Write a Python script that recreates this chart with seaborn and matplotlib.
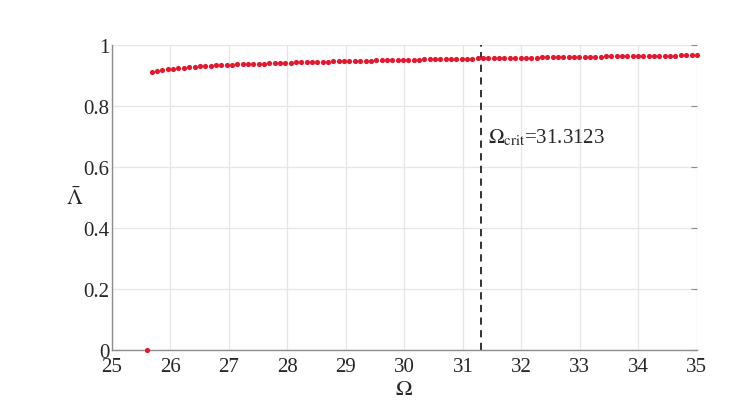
import matplotlib
matplotlib.use("Agg")

import matplotlib.pyplot as plt
import numpy as np
import pandas as pd
import seaborn as sns

# upper branch, 103 evenly spaced omega samples from 25.68 to 35
omega = np.linspace(25.68, 35.0, 103)
lam = [0.911, 0.9145, 0.918, 0.920, 0.922, 0.924, 0.9255, 0.927, 0.9285, 0.930,
       0.931, 0.932, 0.933, 0.934, 0.9347, 0.9354, 0.936, 0.9367, 0.9374, 0.938,
       0.9386, 0.9392, 0.9398, 0.9404, 0.941, 0.9418, 0.9423, 0.9428, 0.9432, 0.9437,
       0.9441, 0.9446, 0.945, 0.9455, 0.946, 0.9464, 0.9469, 0.9473, 0.9476, 0.948,
       0.9484, 0.9487, 0.9491, 0.9494, 0.9498, 0.9502, 0.9506, 0.9509, 0.9513, 0.9517,
       0.952, 0.9524, 0.9528, 0.9531, 0.9535, 0.9539, 0.9542, 0.9546, 0.955, 0.9552,
       0.9555, 0.9558, 0.9561, 0.9563, 0.9566, 0.9569, 0.9572, 0.9574, 0.9577, 0.958,
       0.9583, 0.9585, 0.9588, 0.9591, 0.9594, 0.9596, 0.9599, 0.9602, 0.9605, 0.9607,
       0.961, 0.9613, 0.9616, 0.9618, 0.9621, 0.9624, 0.9627, 0.9629, 0.9632, 0.9635,
       0.9638, 0.964, 0.9642, 0.9644, 0.9646, 0.9647, 0.9649, 0.9651, 0.9653, 0.9655,
       0.9657, 0.9659, 0.966]

# the lone point on the zero branch
omega0 = [25.59]
lam0 = [0.0]

omega_crit = 31.3123

df = pd.DataFrame({"omega": list(omega) + omega0, "lam": lam + lam0})

sns.set_style("white")
plt.rcParams['font.family'] = ['Liberation Serif', 'DejaVu Serif']
plt.rcParams['mathtext.fontset'] = 'stix'

fig = plt.figure(figsize=(7.32, 4.14), dpi=100)
ax = fig.add_axes([0.153, 0.152, 0.799, 0.737])

sns.scatterplot(data=df, x="omega", y="lam", ax=ax, color="#e3182f",
                s=14, linewidth=0, clip_on=False, zorder=3)

ax.axvline(omega_crit, ymin=0, ymax=1, color="#222222", linestyle=(0, (4, 3)),
           linewidth=1.3, zorder=2)
ax.text(31.43, 0.70, r"$\Omega_{\mathrm{crit}}$=31.3123", fontsize=15,
        va="center", ha="left")

ax.set_xlim(25, 35)
ax.set_ylim(0, 1)
ax.set_xticks(range(25, 36))
ax.set_yticks([0, 0.2, 0.4, 0.6, 0.8, 1])
ax.set_yticklabels(["0", "0.2", "0.4", "0.6", "0.8", "1"])

ax.grid(True, color="#e6e6e6", linewidth=0.9)
ax.set_axisbelow(True)
for side in ["top", "right"]:
    ax.spines[side].set_visible(False)
for side in ["left", "bottom"]:
    ax.spines[side].set_color("#8c8c8c")
    ax.spines[side].set_linewidth(1.0)

ax.tick_params(axis="both", labelsize=15, direction="in", length=0)
ax.tick_params(axis="x", pad=5)
ax.tick_params(axis="y", pad=2, length=4, color="#8c8c8c", right=True)

ax.set_xlabel(r"$\Omega$", fontsize=16, labelpad=3)
ax.set_ylabel(r"$\bar{\Lambda}$", fontsize=16, rotation=0, labelpad=6, va="center")

fig.savefig("out.png", dpi=100)
